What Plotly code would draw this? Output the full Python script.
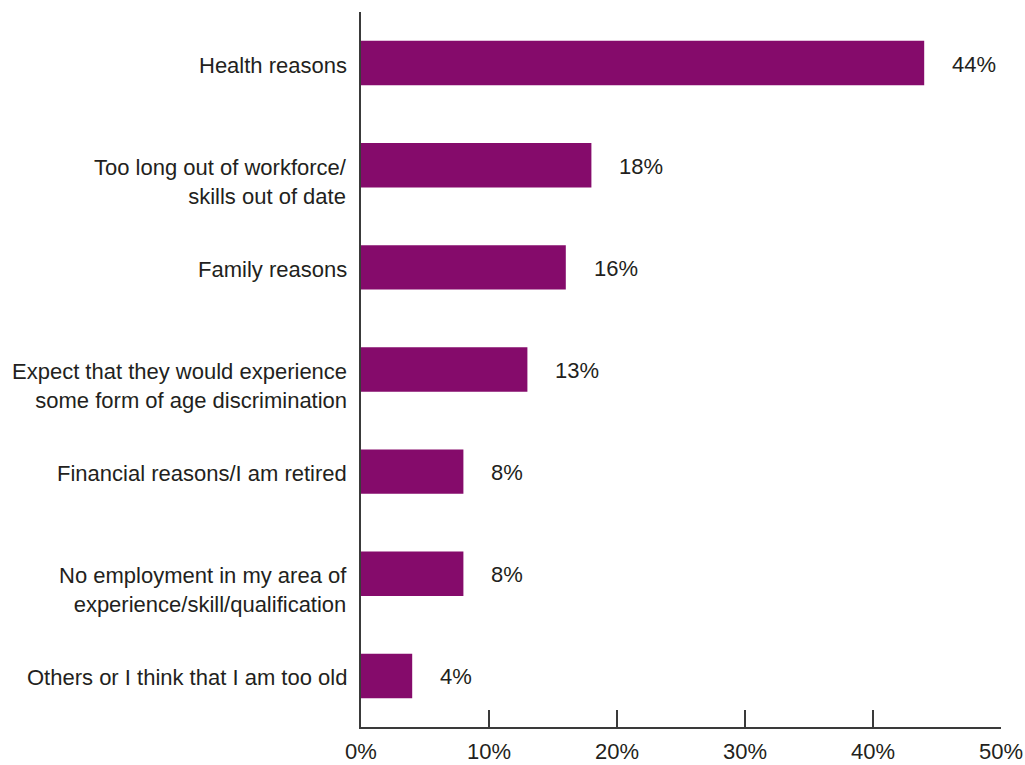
import plotly.graph_objects as go

# Reasons for not returning to work, share of respondents (%)
categories = [
    "Health reasons",
    "Too long out of workforce/<br>skills out of date",
    "Family reasons",
    "Expect that they would experience<br>some form of age discrimination",
    "Financial reasons/I am retired",
    "No employment in my area of<br>experience/skill/qualification",
    "Others or I think that I am too old",
]
values = [44, 18, 16, 13, 8, 8, 4]
tick_vals = [0, 10, 20, 30, 40, 50]
tick_text = ["0%", "10%", "20%", "30%", "40%", "50%"]

BAR_COLOR = "#850b6b"
TEXT_COLOR = "#231f20"
AXIS_COLOR = "#3a3a3a"
FONT = "Liberation Sans, Arial, sans-serif"
FONT_SIZE = 22

fig = go.Figure(
    go.Bar(
        x=values,
        y=categories,
        orientation="h",
        width=0.435,
        marker=dict(color=BAR_COLOR, line=dict(width=0)),
        hoverinfo="skip",
    )
)

annotations = []
for cat, val in zip(categories, values):
    n_lines = cat.count("<br>") + 1
    # category label: first line centred on the bar, further lines run below
    annotations.append(
        dict(
            text=cat,
            x=0,
            xref="paper",
            y=cat,
            yref="y",
            xanchor="right",
            yanchor="middle",
            align="right",
            xshift=-12,
            yshift=-2 - (n_lines - 1) * 0.65 * FONT_SIZE,
            showarrow=False,
            font=dict(family=FONT, size=FONT_SIZE, color=TEXT_COLOR),
        )
    )
    # value label to the right of the bar
    annotations.append(
        dict(
            text=f"{val}%",
            x=val,
            xref="x",
            y=cat,
            yref="y",
            xanchor="left",
            yanchor="middle",
            xshift=26,
            yshift=-1,
            showarrow=False,
            font=dict(family=FONT, size=FONT_SIZE, color=TEXT_COLOR),
        )
    )

fig.update_layout(
    width=1025,
    height=765,
    margin=dict(l=361, r=24, t=12, b=38, autoexpand=False),
    paper_bgcolor="white",
    plot_bgcolor="white",
    showlegend=False,
    bargap=0.565,
    annotations=annotations,
    font=dict(family=FONT, size=FONT_SIZE, color=TEXT_COLOR),
    xaxis=dict(
        range=[0, 50],
        tickvals=tick_vals,
        ticktext=tick_text,
        automargin=False,
        showgrid=False,
        zeroline=False,
        showline=True,
        linecolor=AXIS_COLOR,
        linewidth=1.5,
        ticks="inside",
        ticklen=17,
        tickwidth=1.5,
        tickcolor=AXIS_COLOR,
        ticklabelstandoff=4,
        tickfont=dict(family=FONT, size=FONT_SIZE, color=TEXT_COLOR),
        fixedrange=True,
    ),
    yaxis=dict(
        categoryorder="array",
        categoryarray=categories,
        range=[6.5, -0.5],
        automargin=False,
        showgrid=False,
        zeroline=False,
        showline=True,
        linecolor=AXIS_COLOR,
        linewidth=1.5,
        ticks="",
        showticklabels=False,
        fixedrange=True,
    ),
)

fig.write_html("out.html")
